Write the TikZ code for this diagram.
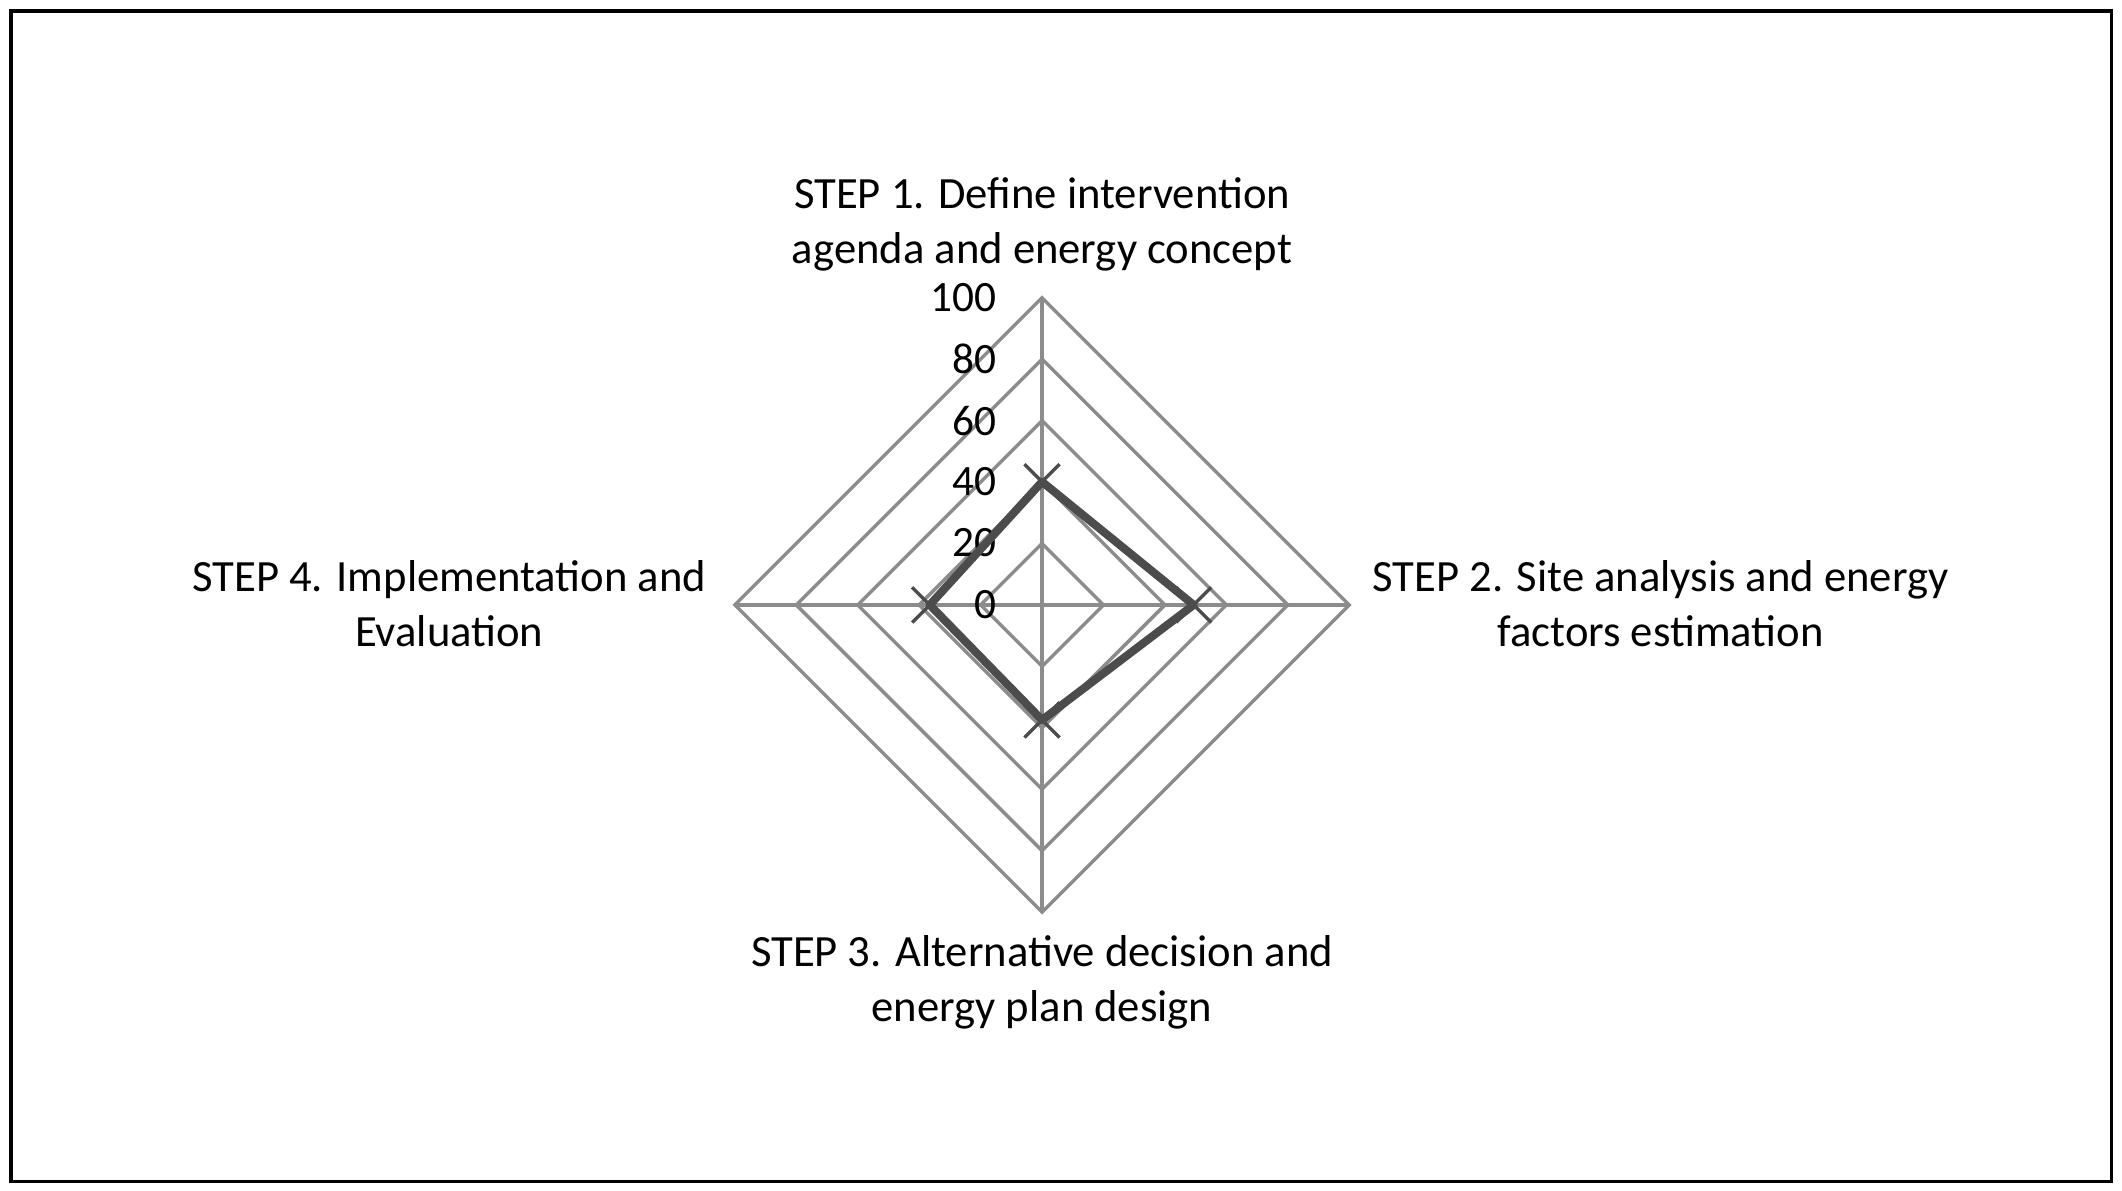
\documentclass[tikz,border=0pt]{standalone}
\usepackage{fontspec}
\setmainfont{Carlito}
\begin{document}
\begin{tikzpicture}[x=1pt,y=-1pt,
  grid/.style={draw=gray!90,line width=2.5pt},
  data/.style={draw=black!70,line width=6pt,line join=round},
  mk/.style={draw=black!70,line width=2.5pt},
  lab/.style={font=\fontsize{33}{41}\selectfont,align=center},
  ax/.style={font=\fontsize{32}{30}\selectfont,anchor=east}]
\useasboundingbox (0,0) rectangle (1568,880);
\draw[line width=2.5pt] (8,8) rectangle (1560,873);
\coordinate (c) at (770,447);
\foreach \r in {45.4,90.8,136.2,181.6,227}{
  \draw[grid] (770,447-\r) -- (770+\r,447) -- (770,447+\r) -- (770-\r,447) -- cycle;}
\draw[grid] (770,220) -- (770,674);
\draw[grid] (543,447) -- (997,447);
\foreach \v/\y in {100/220,80/265,60/311,40/356,20/401,0/447}
  \node[ax] at (740,\y) {\v};
\coordinate (p1) at (770,356);
\coordinate (p2) at (882,447);
\coordinate (p3) at (770,532);
\coordinate (p4) at (687,447);
\draw[data] (p1) -- (p2) -- (p3) -- (p4) -- cycle;
\foreach \p in {p1,p2,p3,p4}
  \draw[mk] ([shift={(-13,-13)}]\p) -- ([shift={(13,13)}]\p)
            ([shift={(-13,13)}]\p) -- ([shift={(13,-13)}]\p);
\node[lab] (s1) at (770,166) {STEP 1. Define intervention\\agenda and energy concept};
\node[lab] (s2) at (1227,446) {STEP 2. Site analysis and energy\\factors estimation};
\node[lab] (s3) at (770,726) {STEP 3. Alternative decision and\\energy plan design};
\node[lab] (s4) at (332,446) {STEP 4. Implementation and\\Evaluation};
\end{tikzpicture}
\end{document}
